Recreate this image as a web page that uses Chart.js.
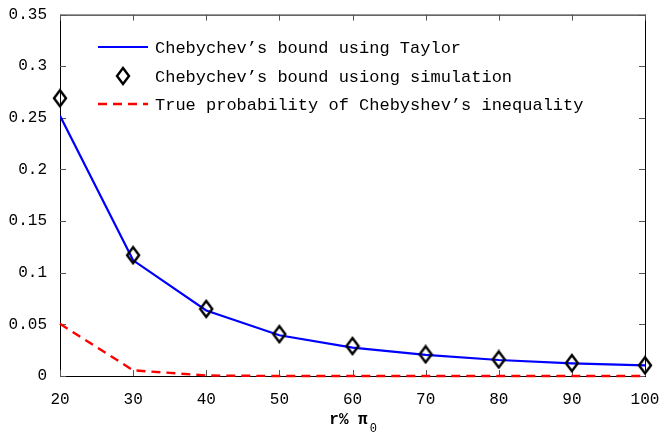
<!DOCTYPE html>
<html>
<head>
<meta charset="utf-8">
<script src="https://cdn.jsdelivr.net/npm/chart.js@4/dist/chart.umd.min.js"></script>
<style>
  html, body { margin: 0; padding: 0; background: #fff; }
  #wrap { width: 660px; height: 438px; }
</style>
</head>
<body>
<div id="wrap"><canvas id="chart1" width="660" height="438"></canvas></div>
<script>
const rValues = [20, 30, 40, 50, 60, 70, 80, 90, 100];
const taylorBound = [0.252, 0.112, 0.0635, 0.0395, 0.0275, 0.0205, 0.0155, 0.0122, 0.0103];
const simBound = [0.269, 0.117, 0.065, 0.0405, 0.029, 0.021, 0.016, 0.0125, 0.0103];
const trueProb = [0.0505, 0.0055, 0.0005, 0, 0, 0, 0, 0, 0];
const yTicks = [0, 0.05, 0.1, 0.15, 0.2, 0.25, 0.3, 0.35];

const pts = arr => arr.map((v, i) => ({x: rValues[i], y: v}));

// tall matlab-like diamond marker
const diamond = document.createElement('canvas');
diamond.width = 16; diamond.height = 20;
(function () {
  const c = diamond.getContext('2d');
  c.strokeStyle = '#000';
  c.lineWidth = 2.4;
  c.beginPath();
  c.moveTo(8, 2); c.lineTo(14, 10); c.lineTo(8, 18); c.lineTo(2, 10); c.closePath();
  c.stroke();
})();

const monoFont = 'Liberation Mono, DejaVu Sans Mono, monospace';

// box + inward ticks on all four sides, drawn under the lines
const matlabFrame = {
  id: 'matlabFrame',
  beforeDatasetsDraw(chart) {
    const ctx = chart.ctx, a = chart.chartArea;
    const xs = chart.scales.x, ys = chart.scales.y;
    ctx.save();
    ctx.strokeStyle = '#000';
    ctx.lineWidth = 1;
    ctx.strokeRect(a.left + 0.5, a.top + 0.5, a.right - a.left, a.bottom - a.top);
    ctx.strokeStyle = '#555';
    ctx.beginPath();
    xs.ticks.forEach(t => {
      const px = Math.round(xs.getPixelForValue(t.value)) + 0.5;
      ctx.moveTo(px, a.bottom); ctx.lineTo(px, a.bottom - 6);
      ctx.moveTo(px, a.top); ctx.lineTo(px, a.top + 6);
    });
    ys.ticks.forEach(t => {
      const py = Math.round(ys.getPixelForValue(t.value)) + 0.5;
      ctx.moveTo(a.left, py); ctx.lineTo(a.left + 6, py);
      ctx.moveTo(a.right, py); ctx.lineTo(a.right - 6, py);
    });
    ctx.stroke();

    // x axis title with subscript
    const cx = (a.left + a.right) / 2;
    ctx.fillStyle = '#000';
    ctx.textBaseline = 'middle';
    ctx.font = 'bold 16px ' + monoFont;
    const main = 'r% \u03c0';
    const w = ctx.measureText(main).width;
    ctx.fillText(main, cx - w / 2 - 4, 420);
    ctx.font = '12px ' + monoFont;
    ctx.fillText('0', cx + w / 2 - 2, 429);
    ctx.restore();
  },
  afterDatasetsDraw(chart) {
    const ctx = chart.ctx;
    const ds = chart.data.datasets;
    const rows = [47, 76, 104];
    ctx.save();
    ctx.font = '17px ' + monoFont;
    ctx.textBaseline = 'middle';
    ctx.fillStyle = '#000';
    ds.forEach((d, i) => {
      const y = rows[i];
      if (d.showLine === false) {
        ctx.drawImage(diamond, 123 - 8, y - 10);
      } else {
        ctx.strokeStyle = d.borderColor;
        ctx.lineWidth = d.borderWidth;
        ctx.setLineDash(d.borderDash || []);
        ctx.beginPath();
        ctx.moveTo(98, y); ctx.lineTo(148, y);
        ctx.stroke();
        ctx.setLineDash([]);
      }
      ctx.fillText(d.label, 155, y + 1);
    });
    ctx.restore();
  }
};

const config1 = {
  type: 'line',
  data: {
    datasets: [
      {
        label: 'Chebychev\u2019s bound using Taylor',
        data: pts(taylorBound),
        borderColor: '#0000ff',
        backgroundColor: '#0000ff',
        borderWidth: 2.2,
        pointRadius: 0,
        tension: 0,
        order: 2
      },
      {
        label: 'Chebychev\u2019s bound usiong simulation',
        data: pts(simBound),
        showLine: false,
        pointStyle: diamond,
        pointRadius: 8,
        clip: false,
        order: 0
      },
      {
        label: 'True probability of Chebyshev\u2019s inequality',
        data: pts(trueProb),
        borderColor: '#ff0000',
        backgroundColor: '#ff0000',
        borderWidth: 2.4,
        borderDash: [9, 6],
        pointRadius: 0,
        tension: 0,
        clip: 4,
        order: 1
      }
    ]
  },
  options: {
    responsive: false,
    animation: false,
    layout: { padding: { left: 0, right: 15, top: 13, bottom: 0 } },
    plugins: { legend: { display: false }, tooltip: { enabled: false } },
    scales: {
      x: {
        type: 'linear',
        min: 20, max: 100,
        afterBuildTicks: s => { s.ticks = rValues.map(v => ({value: v})); },
        grid: { display: false },
        border: { display: false },
        ticks: { color: '#000', font: { family: monoFont, size: 16 }, padding: 6, maxRotation: 0 },
        title: { display: false },
        afterFit: s => { s.height = 62; s.paddingLeft = 0; s.paddingRight = 0; }
      },
      y: {
        min: 0, max: 0.35,
        afterBuildTicks: s => { s.ticks = yTicks.map(v => ({value: v})); },
        grid: { display: false },
        border: { display: false },
        ticks: {
          color: '#000',
          font: { family: monoFont, size: 16 },
          padding: 5,
          callback: v => String(+v.toFixed(2))
        },
        afterFit: s => { s.width = 60; }
      }
    }
  },
  plugins: [matlabFrame]
};

const chart1 = new Chart(document.getElementById('chart1'), config1);
</script>
</body>
</html>
